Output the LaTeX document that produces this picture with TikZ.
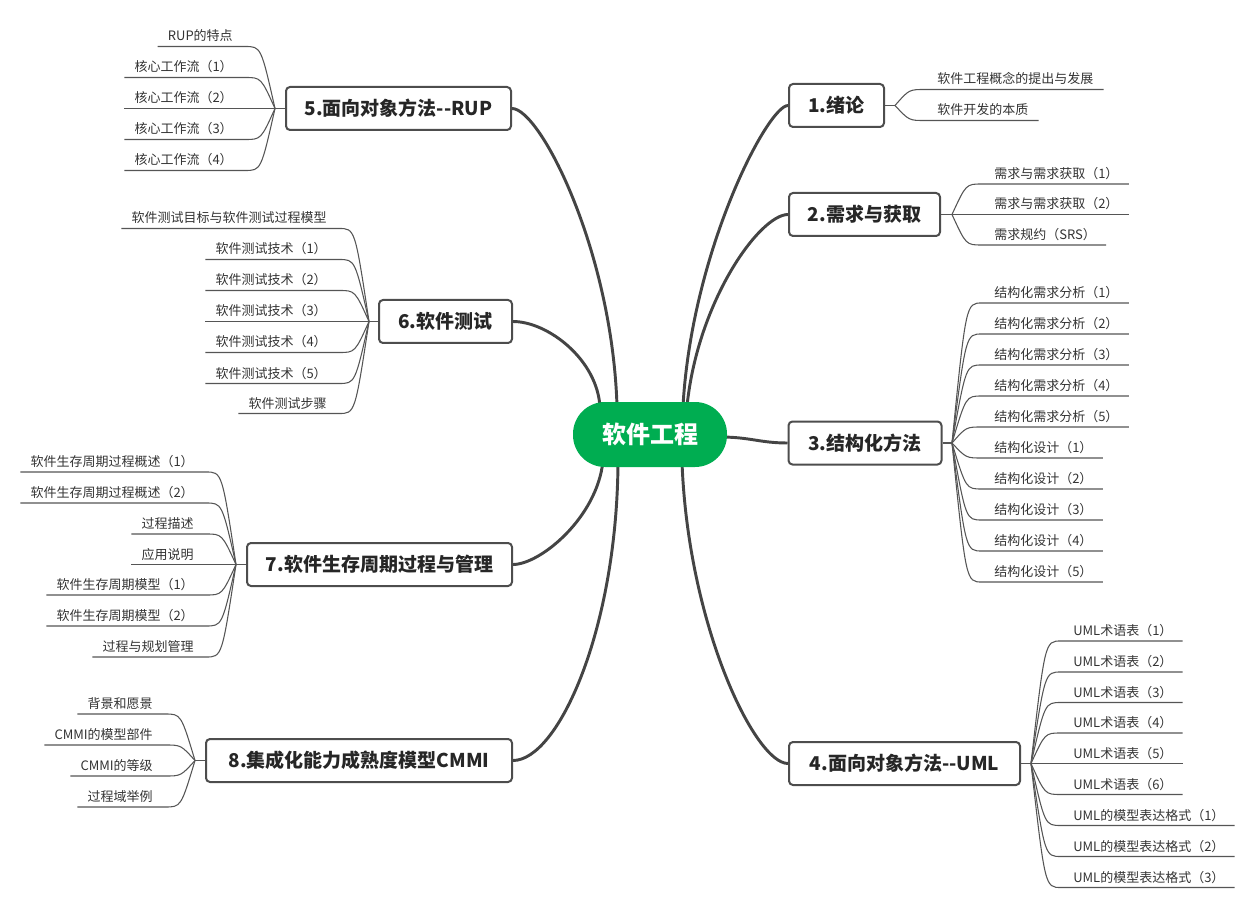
\documentclass[tikz,border=0pt]{standalone}
\usepackage{fontspec}
\newfontfamily\cjk{Noto Sans CJK SC}
\usetikzlibrary{backgrounds,calc}
\definecolor{rootgreen}{RGB}{0,173,81}
\definecolor{boxgray}{RGB}{77,77,77}
\definecolor{edgegray}{RGB}{68,68,68}
\definecolor{leafgray}{RGB}{85,85,85}
\definecolor{textdark}{RGB}{38,38,38}
\definecolor{leaftext}{RGB}{51,51,51}
\tikzset{
  rootnode/.style={fill=rootgreen, rounded corners=24pt, minimum width=115.5pt, minimum height=48.75pt,
    inner sep=0pt, text=white, font=\cjk\bfseries\fontsize{18}{20}\selectfont},
  mainbox/.style={draw=boxgray, line width=1.5pt, rounded corners=3pt, fill=white,
    minimum height=32.25pt, inner xsep=3pt, inner ysep=0pt, text=textdark,
    font=\cjk\bfseries\fontsize{14.25}{16}\selectfont},
  leaf/.style={inner sep=0pt, text=leaftext, text height=0.8em, text depth=0.2em,
    font=\cjk\fontsize{9.75}{11}\selectfont},
  mainedge/.style={draw=edgegray, line width=2.2pt},
  leafedge/.style={draw=leafgray, line width=0.8pt},
}
\newcommand\RLeaf[5]{%
  \coordinate (#1l) at (0,#4);
  \node[leaf,anchor=west] (#1) at (#3+42,#4-9.5) {#5};
  \draw[leafedge] (#2) .. controls (#3+14,#4) .. (#3+30,#4) -- (#1.east |- #1l) -- ++(10,0);
}
\newcommand\LLeaf[5]{%
  \coordinate (#1l) at (0,#4);
  \node[leaf,anchor=east] (#1) at (#3-42,#4-9.5) {#5};
  \draw[leafedge] (#2) .. controls (#3-14,#4) .. (#3-30,#4) -- (#1.west |- #1l) -- ++(-10,0);
}
\begin{document}
\begin{tikzpicture}[x=0.75pt,y=-0.75pt]
\useasboundingbox (0,0) rectangle (1257,909);
% root
\node[rootnode] (root) at (650,434.5) {软件工程};
% main boxes
\node[mainbox, minimum width=71.25pt]  (b1) at (836.5,105.5) {1.绪论};
\node[mainbox, minimum width=113.25pt] (b2) at (864.5,214.5) {2.需求与获取};
\node[mainbox, minimum width=114.75pt] (b3) at (865,443)     {3.结构化方法};
\node[mainbox, minimum width=173.25pt] (b4) at (904.5,763.5) {4.面向对象方法--UML};
\node[mainbox, minimum width=168.75pt] (b5) at (398.5,108.5) {5.面向对象方法--RUP};
\node[mainbox, minimum width=99.75pt]  (b6) at (445.5,321.5) {6.软件测试};
\node[mainbox, minimum width=198.75pt] (b7) at (379.5,564.5) {7.软件生存周期过程与管理};
\node[mainbox, minimum width=229.5pt]  (b8) at (359,760.5)   {8.集成化能力成熟度模型CMMI};
% main connectors
\coordinate (s1) at (683,406);
\coordinate (s2) at (687,406);
\coordinate (s3) at (720,437);
\coordinate (s4) at (682,462);
\coordinate (s5) at (617,406);
\coordinate (s6) at (600,408);
\coordinate (s7) at (603,461);
\coordinate (s8) at (618,462);
\begin{scope}[on background layer]
\draw[mainedge] (s1) .. controls (692,250) and (768,105.5) .. (b1.west);
\draw[mainedge] (s2) .. controls (698,300) and (760,214.5) .. (b2.west);
\draw[mainedge] (s3) .. controls (750,437) and (760,443) .. (b3.west);
\draw[mainedge] (s4) .. controls (688,625) and (755,763.5) .. (b4.west);
\draw[mainedge] (s5) .. controls (612,250) and (540,108.5) .. (b5.east);
\draw[mainedge] (s6) .. controls (598,360) and (548,321.5) .. (b6.east);
\draw[mainedge] (s7) .. controls (597,518) and (540,564.5) .. (b7.east);
\draw[mainedge] (s8) .. controls (617,630) and (558,760.5) .. (b8.east);
\end{scope}
% junctions
\coordinate (j1) at (895,105.5);
\coordinate (j2) at (952,214.5);
\coordinate (j3) at (952,443);
\coordinate (j4) at (1031,763.5);
\coordinate (j5) at (275,108.5);
\coordinate (j6) at (369,321.5);
\coordinate (j7) at (236,564.5);
\coordinate (j8) at (195,760.5);
\draw[leafedge] (b1.east) -- (j1);
\draw[leafedge] (b2.east) -- (j2);
\draw[leafedge] (b3.east) -- (j3);
\draw[leafedge] (b4.east) -- (j4);
\draw[leafedge] (b5.west) -- (j5);
\draw[leafedge] (b6.west) -- (j6);
\draw[leafedge] (b7.west) -- (j7);
\draw[leafedge] (b8.west) -- (j8);
% branch 1
\RLeaf{ra}{j1}{895}{89.5}{软件工程概念的提出与发展}
\RLeaf{rb}{j1}{895}{120.5}{软件开发的本质}
% branch 2
\RLeaf{rc}{j2}{952}{184}{需求与需求获取（1）}
\RLeaf{rd}{j2}{952}{214.5}{需求与需求获取（2）}
\RLeaf{re}{j2}{952}{245}{需求规约（SRS）}
% branch 3
\RLeaf{rf}{j3}{952}{303}{结构化需求分析（1）}
\RLeaf{rg}{j3}{952}{334}{结构化需求分析（2）}
\RLeaf{rh}{j3}{952}{365}{结构化需求分析（3）}
\RLeaf{ri}{j3}{952}{396}{结构化需求分析（4）}
\RLeaf{rj}{j3}{952}{427}{结构化需求分析（5）}
\RLeaf{rk}{j3}{952}{458}{结构化设计（1）}
\RLeaf{rm}{j3}{952}{489}{结构化设计（2）}
\RLeaf{rn}{j3}{952}{520}{结构化设计（3）}
\RLeaf{ro}{j3}{952}{551}{结构化设计（4）}
\RLeaf{rp}{j3}{952}{582}{结构化设计（5）}
% branch 4
\RLeaf{rq}{j4}{1031}{641}{UML术语表（1）}
\RLeaf{rr}{j4}{1031}{672}{UML术语表（2）}
\RLeaf{rs}{j4}{1031}{702.5}{UML术语表（3）}
\RLeaf{rt}{j4}{1031}{733}{UML术语表（4）}
\RLeaf{ru}{j4}{1031}{763.5}{UML术语表（5）}
\RLeaf{rv}{j4}{1031}{794.5}{UML术语表（6）}
\RLeaf{rw}{j4}{1031}{825.5}{UML的模型表达格式（1）}
\RLeaf{rx}{j4}{1031}{856.5}{UML的模型表达格式（2）}
\RLeaf{ry}{j4}{1031}{887.5}{UML的模型表达格式（3）}
% branch 5
\LLeaf{la}{j5}{275}{46.5}{RUP的特点}
\LLeaf{lb}{j5}{275}{77.5}{核心工作流（1）}
\LLeaf{lc}{j5}{275}{108.5}{核心工作流（2）}
\LLeaf{ld}{j5}{275}{139.5}{核心工作流（3）}
\LLeaf{le}{j5}{275}{170.5}{核心工作流（4）}
% branch 6
\LLeaf{lf}{j6}{369}{228.5}{软件测试目标与软件测试过程模型}
\LLeaf{lg}{j6}{369}{259.5}{软件测试技术（1）}
\LLeaf{lh}{j6}{369}{290.5}{软件测试技术（2）}
\LLeaf{li}{j6}{369}{321.5}{软件测试技术（3）}
\LLeaf{lj}{j6}{369}{352.5}{软件测试技术（4）}
\LLeaf{lk}{j6}{369}{383.5}{软件测试技术（5）}
\LLeaf{lm}{j6}{369}{413.5}{软件测试步骤}
% branch 7
\LLeaf{ln}{j7}{236}{472}{软件生存周期过程概述（1）}
\LLeaf{lo}{j7}{236}{503}{软件生存周期过程概述（2）}
\LLeaf{lp}{j7}{236}{534}{过程描述}
\LLeaf{lq}{j7}{236}{564.5}{应用说明}
\LLeaf{lr}{j7}{236}{595}{软件生存周期模型（1）}
\LLeaf{ls}{j7}{236}{626}{软件生存周期模型（2）}
\LLeaf{lt}{j7}{236}{657}{过程与规划管理}
% branch 8
\LLeaf{lu}{j8}{195}{714}{背景和愿景}
\LLeaf{lv}{j8}{195}{745}{CMMI的模型部件}
\LLeaf{lw}{j8}{195}{776}{CMMI的等级}
\LLeaf{lx}{j8}{195}{807}{过程域举例}
\end{tikzpicture}
\end{document}
